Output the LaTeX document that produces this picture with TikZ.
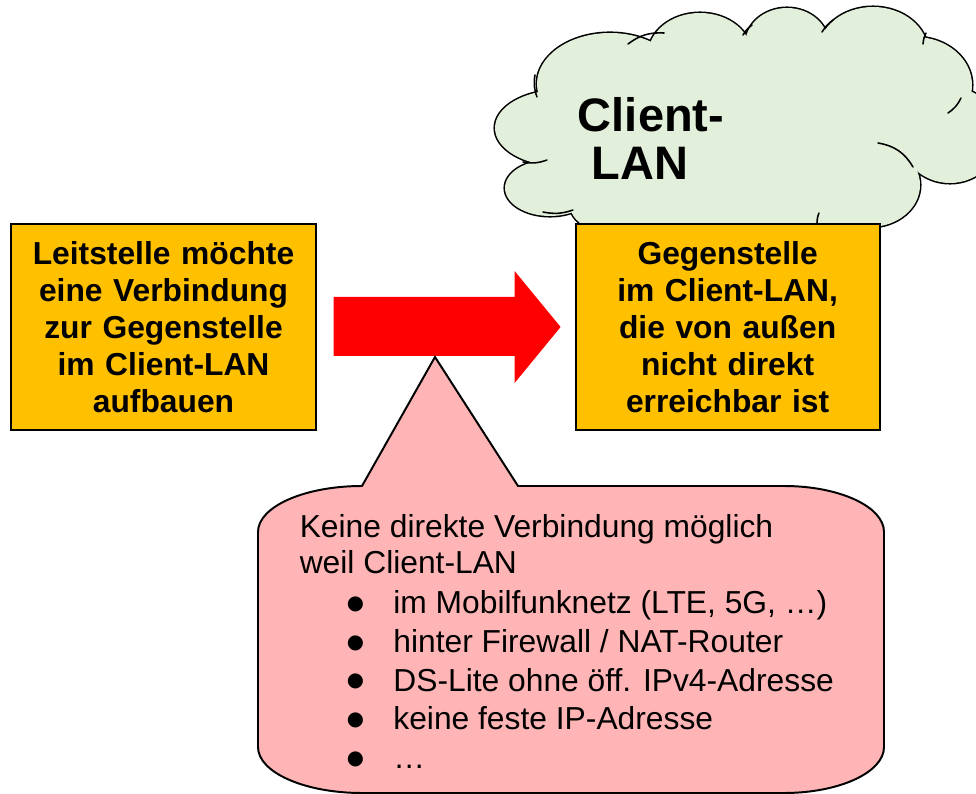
\documentclass[tikz,border=0pt]{standalone}
\usepackage{fontspec}
\setmainfont{Liberation Sans}
\newfontfamily\punktfont{DejaVu Sans}
\usetikzlibrary{positioning, calc}
\definecolor{stellengold}{RGB}{255,192,0}
\definecolor{wolkengruen}{RGB}{226,239,218}
\definecolor{blasenrosa}{RGB}{255,181,181}
\newcommand{\punkt}{\hspace*{1.18cm}\makebox[1.16cm][l]{\raisebox{3pt}{\punktfont\fontsize{14}{14}\selectfont ●}}}

\begin{document}
\begin{tikzpicture}[
    x=0.025cm, y=-0.025cm, % 1 Einheit = 1 Pixel, y nach unten
    node distance=0.5cm and 6.45cm,
    stelle/.style={
        rectangle,
        draw=black,
        line width=1.4pt,
        fill=stellengold,
        text width=7.2cm,
        align=center,
        inner sep=0.2cm,
        minimum height=5.15cm,
        font=\bfseries\fontsize{22.6}{26.3}\selectfont
    },
    wolkenrand/.style={draw=black, line width=2.2pt},
    wolkenlinie/.style={draw=black, line width=1.1pt, line cap=round},
    pfeil/.style={fill=red},
    blase/.style={draw=black, line width=1.4pt, fill=blasenrosa},
    blasentext/.style={inner sep=0pt, align=left, font=\fontsize{22.6}{27.6}\selectfont}
]

% ========== Rahmen ==========
\useasboundingbox (0,0) rectangle (976,794);
\clip (0,0) rectangle (976,794);

% ========== Wolke Client-LAN ==========
\foreach \mx/\my/\rx/\ry in {620/205/50/30, 550/188/45/28, 560/128/65/38, 610/84/73/51, 700/55/52/42,
    787/45/42/37, 873/52/55/45, 915/85/57/48, 950/135/50/48, 870/185/50/42}
    \draw[wolkenrand] (\mx,\my) ellipse [x radius=\rx, y radius=\ry];
\foreach \mx/\my/\rx/\ry in {620/205/50/30, 550/188/45/28, 560/128/65/38, 610/84/73/51, 700/55/52/42,
    787/45/42/37, 873/52/55/45, 915/85/57/48, 950/135/50/48, 870/185/50/42}
    \fill[wolkengruen] (\mx,\my) ellipse [x radius=\rx, y radius=\ry];
\fill[wolkengruen] (550,188) -- (560,128) -- (610,84) -- (700,55) -- (787,45) -- (873,52)
    -- (915,85) -- (950,135) -- (870,185) -- (620,205) -- cycle;
\fill[wolkengruen] (600,150) rectangle (860,232);

% Innenboegen der Wolke
\draw[wolkenlinie] (628,44) to[bend left=20] (664,33);
\draw[wolkenlinie] (743,35) to[bend left=10] (752,25);
\draw[wolkenlinie] (822,32) to[bend left=10] (833,20);
\draw[wolkenlinie] (923,44) to[bend left=10] (926,33);
\draw[wolkenlinie] (948,113) to[bend right=15] (961,98);
\draw[wolkenlinie] (878,143) to[bend left=25] (913,167);
\draw[wolkenlinie] (817,223) to[bend left=10] (819,213);
\draw[wolkenlinie] (543,212) to[bend right=15] (573,210);
\draw[wolkenlinie] (523,162) to[bend right=15] (547,160);
\draw[wolkenlinie] (537,97) to[bend left=15] (535,75);

\node[anchor=north west, inner sep=0pt, align=left, font=\bfseries\fontsize{33.4}{34.1}\selectfont]
    (lan) at (577.7,97) {Client-\\\hspace*{0.35cm}LAN};

% ========== Stellen ==========
\node[stelle] (leit) at (163.5,327) {Leitstelle möchte\\eine Verbindung\\zur Gegenstelle\\im Client-LAN\\aufbauen};
\node[stelle, right=of leit] (gegen) {Gegenstelle\\im Client-LAN,\\die von außen\\nicht direkt\\erreichbar ist};

% ========== Blockpfeil ==========
\fill[pfeil] ($(leit.east)+(17,-30)$) -- ($(gegen.west)+(-60,-30)$) -- ($(gegen.west)+(-60,-56)$)
    -- ($(gegen.west)+(-14,0)$) -- ($(gegen.west)+(-60,56)$) -- ($(gegen.west)+(-60,29)$)
    -- ($(leit.east)+(17,29)$) -- cycle;

% ========== Sprechblase ==========
\coordinate (spitze) at (435,357);
\draw[blase] (258,532) .. controls (258,506.6) and (304.6,486) .. (362,486) -- (spitze) -- (518,486)
    -- (784,486) .. controls (839.2,486) and (884,506.6) .. (884,532) -- (884,747)
    .. controls (884,772.4) and (839.2,793) .. (784,793) -- (362,793)
    .. controls (304.6,793) and (258,772.4) .. (258,747) -- cycle;

\node[blasentext, anchor=north west] (grund) at (299.5,514) {Keine direkte Verbindung möglich\\[-2pt]
    weil Client-LAN\\[1pt]
    \punkt im Mobilfunknetz (LTE, 5G, …)\\
    \punkt hinter Firewall / NAT-Router\\
    \punkt DS-Lite ohne öff. IPv4-Adresse\\
    \punkt keine feste IP-Adresse\\
    \punkt …};

\end{tikzpicture}
\end{document}
